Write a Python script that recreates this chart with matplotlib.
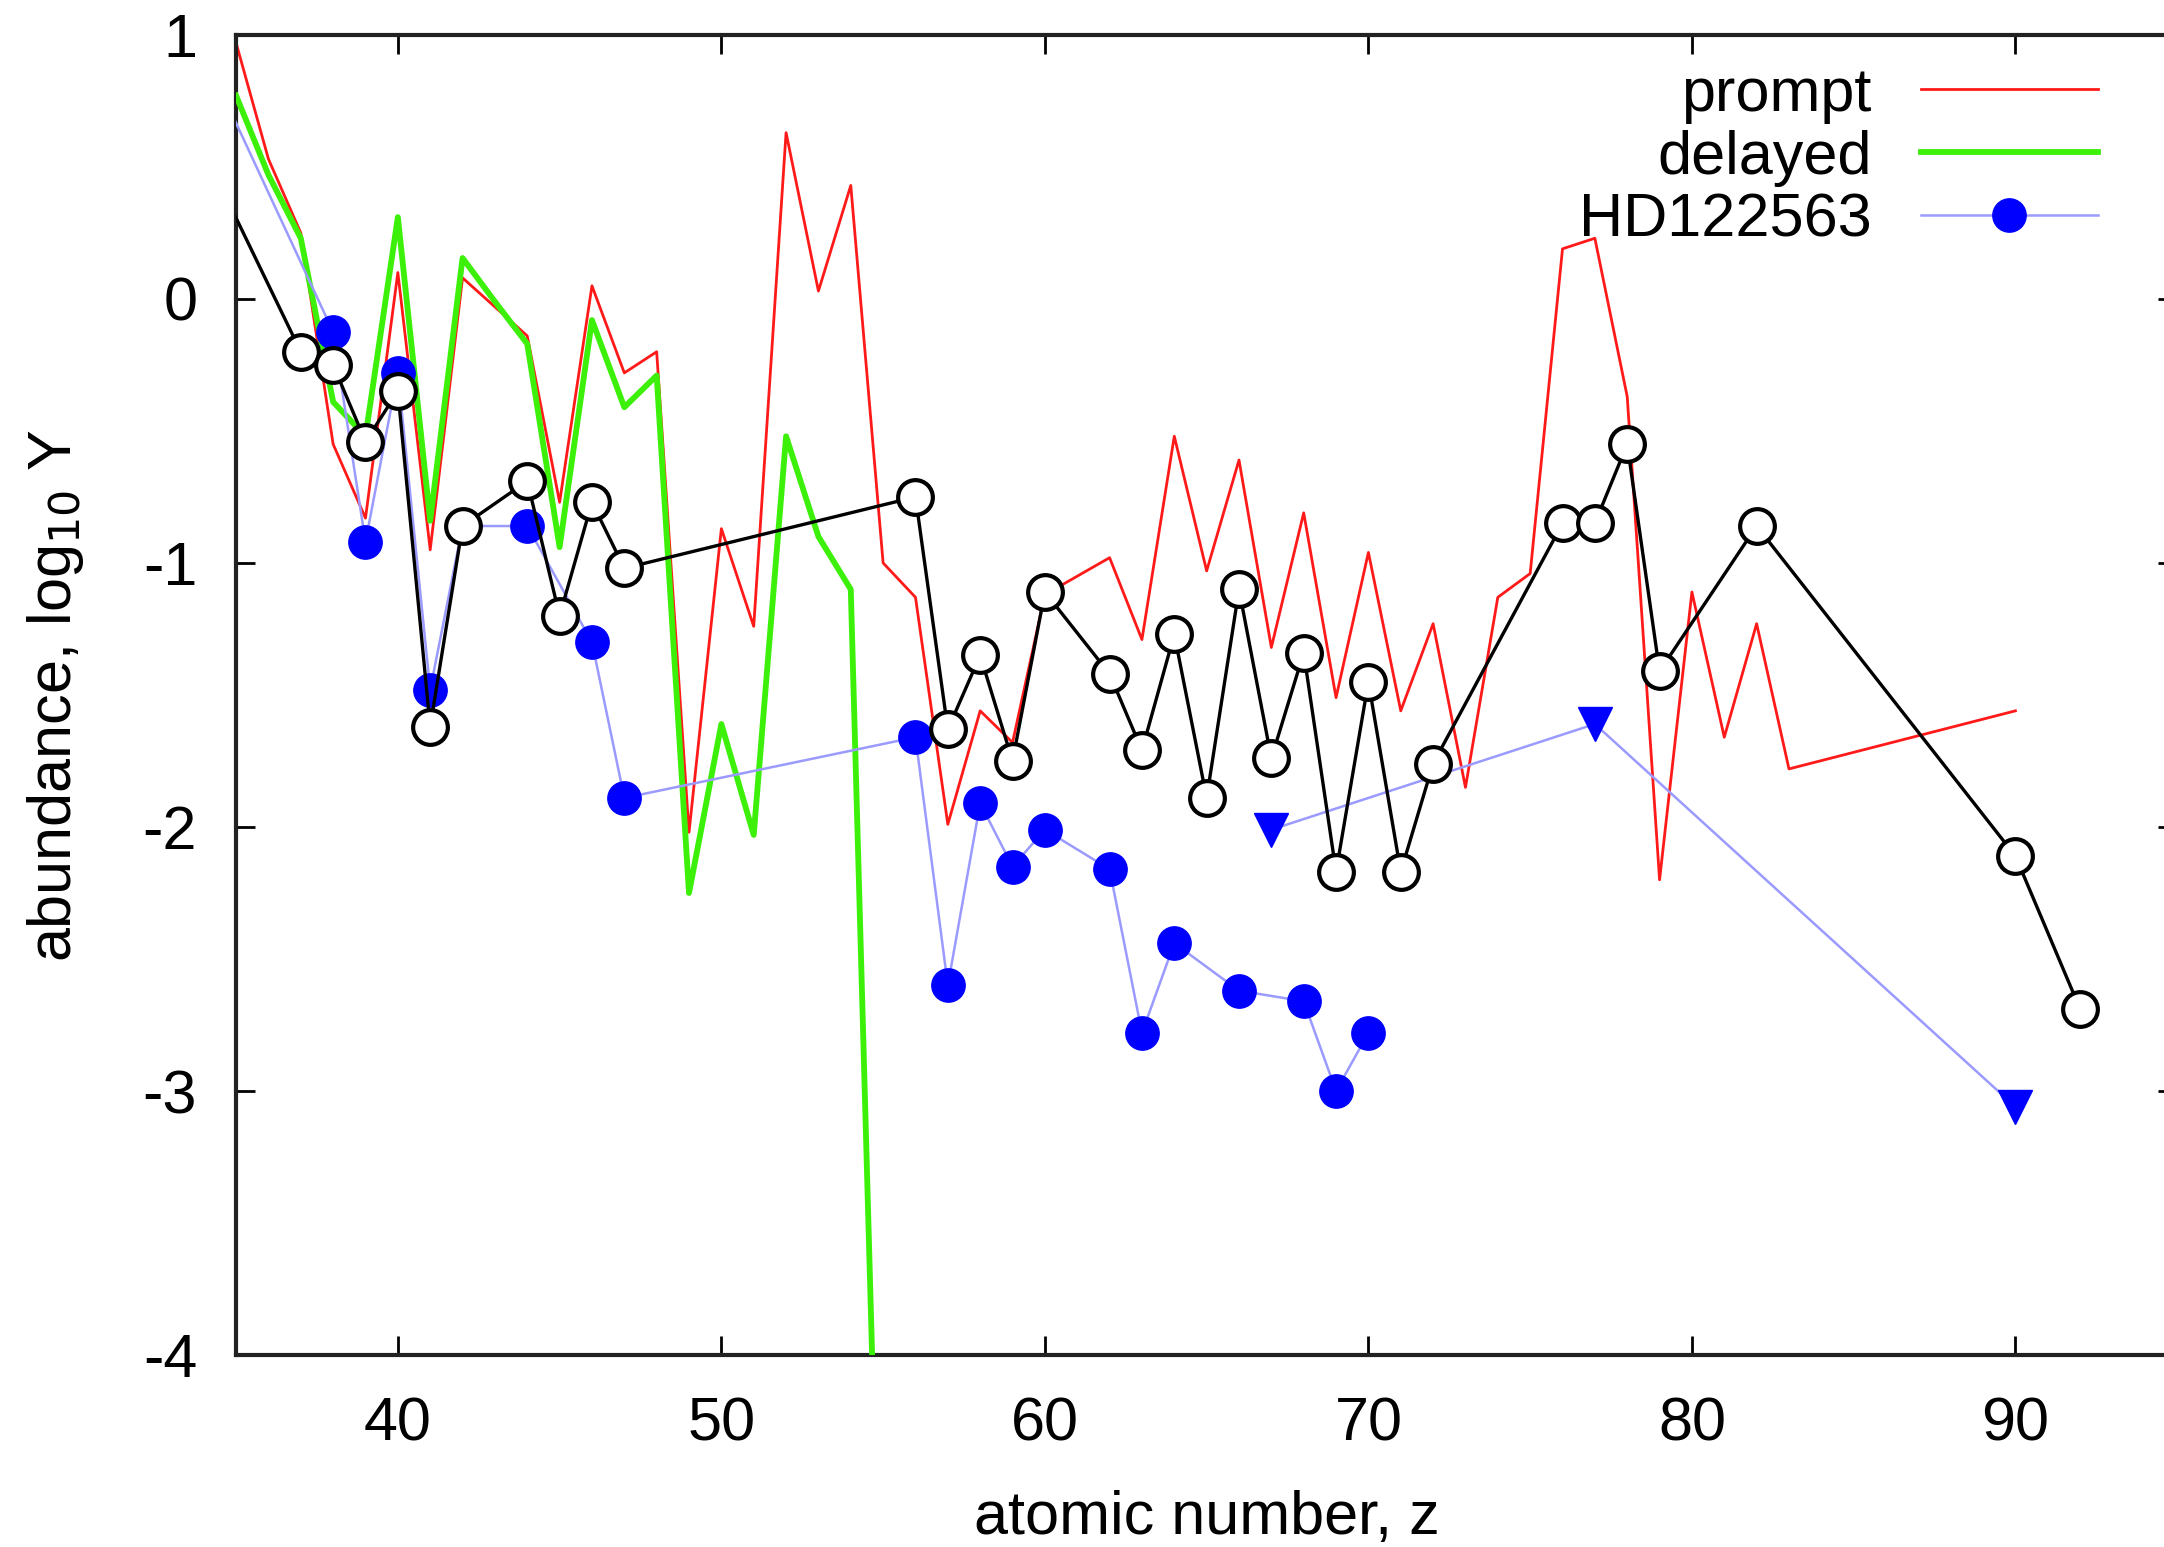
import matplotlib
matplotlib.use("Agg")
import matplotlib.pyplot as plt

plt.rcParams['font.family'] = ['Liberation Sans', 'DejaVu Sans']
plt.rcParams['axes.unicode_minus'] = False

# --- prompt r-process yields ---
z_prompt = list(range(35, 84)) + [90]
y_prompt = [0.97, 0.53, 0.25, -0.55, -0.83, 0.10, -0.95, 0.08, -0.03, -0.14,
            -0.77, 0.05, -0.28, -0.20, -2.02, -0.87, -1.24, 0.63, 0.03, 0.43,
            -1.00, -1.13, -1.99, -1.56, -1.68, -1.12, -1.05, -0.98, -1.29, -0.52,
            -1.03, -0.61, -1.32, -0.81, -1.51, -0.96, -1.56, -1.23, -1.85, -1.13,
            -1.04, 0.19, 0.23, -0.37, -2.20, -1.11, -1.66, -1.23, -1.78,
            -1.56]

# --- delayed yields (falls off below the plot after Xe) ---
z_delayed = list(range(35, 56))
y_delayed = [0.77, 0.47, 0.23, -0.39, -0.52, 0.31, -0.84, 0.155, -0.01, -0.17,
             -0.94, -0.08, -0.41, -0.29, -2.25, -1.61, -2.03, -0.52, -0.90, -1.10,
             -5.5]

# --- HD122563 detections ---
z_hd = [34, 38, 39, 40, 41, 42, 44, 46, 47, 56, 57, 58, 59, 60, 62, 63, 64,
        66, 68, 69, 70]
y_hd = [0.93, -0.125, -0.92, -0.28, -1.48, -0.86, -0.86, -1.30, -1.89, -1.66,
        -2.60, -1.91, -2.15, -2.01, -2.16, -2.78, -2.44, -2.62, -2.66, -3.00,
        -2.78]

# --- HD122563 upper limits ---
z_lim = [67, 77, 90]
y_lim = [-2.01, -1.61, -3.06]

# --- scaled solar r-process pattern ---
z_solar = [34, 37, 38, 39, 40, 41, 42, 44, 45, 46, 47, 56, 57, 58, 59, 60,
           62, 63, 64, 65, 66, 67, 68, 69, 70, 71, 72, 76, 77, 78, 79, 82,
           90, 92]
y_solar = [0.56, -0.20, -0.25, -0.54, -0.35, -1.62, -0.86, -0.69, -1.20, -0.77,
           -1.02, -0.75, -1.63, -1.35, -1.75, -1.11, -1.42, -1.71, -1.27, -1.89,
           -1.10, -1.74, -1.34, -2.17, -1.45, -2.17, -1.76, -0.85, -0.85, -0.55,
           -1.41, -0.86, -2.11, -2.69]

FS = 44

fig = plt.figure(figsize=(21.64, 15.47), dpi=100)
ax = fig.add_axes([0.1091, 0.1241, 0.897, 0.8533])

ax.plot(z_prompt, y_prompt, color='#ff1a1a', lw=2.0, label='prompt', zorder=2)
ax.plot(z_delayed, y_delayed, color='#3cf00a', lw=4.2, label='delayed', zorder=3)
ax.plot(z_hd, y_hd, color='#9a9aff', lw=1.8, marker='o', ms=24,
        mfc='#0000ff', mec='#0000ff', label='HD122563', zorder=4)
ax.plot(z_lim, y_lim, color='#9a9aff', lw=1.8, marker='v', ms=24,
        mfc='#0000ff', mec='#0000ff', zorder=4)
ax.plot(z_solar, y_solar, color='black', lw=2.4, marker='o', ms=25,
        mfc='white', mec='black', mew=3.0, zorder=5)

ax.set_xlim(35, 95)
ax.set_ylim(-4, 1)
ax.set_xticks([40, 50, 60, 70, 80, 90])
ax.set_yticks([1, 0, -1, -2, -3, -4])

ax.tick_params(direction='in', length=14, width=2, top=True, right=True,
               labelsize=FS)
ax.tick_params(axis='x', pad=30)
ax.tick_params(axis='y', pad=28)
for sp in ax.spines.values():
    sp.set_linewidth(3)
    sp.set_color('#222222')

ax.set_xlabel('atomic number, z', fontsize=FS, labelpad=26)
ax.set_ylabel(r'abundance, log$_{10}$ Y', fontsize=FS, labelpad=41)

leg = ax.legend(loc='upper right', bbox_to_anchor=(0.9695, 0.957),
                bbox_transform=fig.transFigure, frameon=False,
                markerfirst=False, fontsize=FS, handlelength=2.9,
                handletextpad=0.8, labelspacing=0.1, borderpad=0,
                borderaxespad=0)

fig.savefig('out.png', dpi=100)
